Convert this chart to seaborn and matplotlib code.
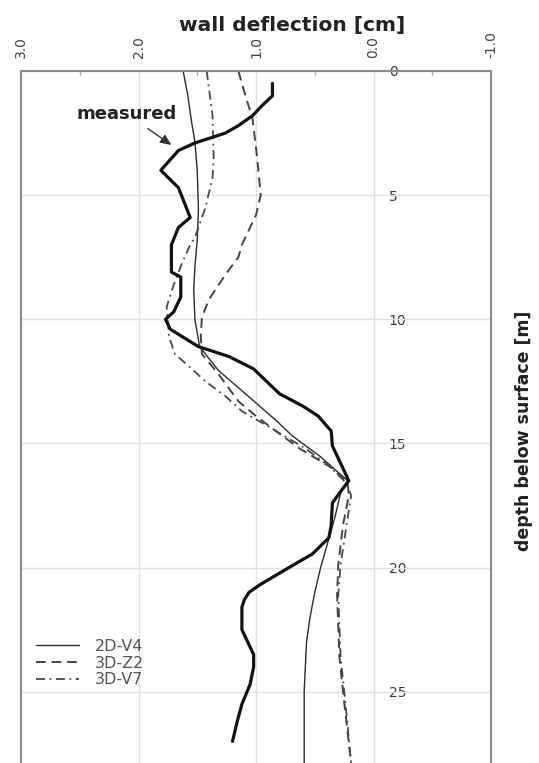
import matplotlib
matplotlib.use("Agg")
import matplotlib.pyplot as plt
import pandas as pd
import seaborn as sns

# Wall deflection profiles: depth below surface [m] vs. deflection [cm]
measured_depth = [0.5, 1.0, 1.4, 1.8, 2.2, 2.5, 2.9, 3.2, 4.0, 4.7, 5.9, 6.3, 7.0,
                  7.5, 8.1, 8.3, 9.1, 9.7, 10.0, 10.4, 11.1, 11.5, 12.0, 13.0, 13.5,
                  13.9, 14.5, 15.1, 16.5, 17.0, 17.4, 18.3, 18.8, 19.45, 20.0, 20.7,
                  21.0, 21.3, 21.6, 22.5, 23.5, 24.0, 24.7, 25.5, 26.2, 27.0]
measured_defl = [0.86, 0.86, 0.95, 1.03, 1.15, 1.26, 1.52, 1.66, 1.81, 1.66, 1.56, 1.66, 1.72,
                 1.72, 1.72, 1.64, 1.64, 1.70, 1.77, 1.73, 1.49, 1.23, 1.02, 0.80, 0.60,
                 0.47, 0.36, 0.35, 0.21, 0.29, 0.35, 0.36, 0.38, 0.52, 0.72, 0.97,
                 1.06, 1.10, 1.12, 1.12, 1.02, 1.02, 1.05, 1.12, 1.16, 1.20]

v4_depth = [0.0, 1.0, 2.0, 2.85, 4.0, 5.6, 6.8, 7.9, 8.8, 10.0, 11.1, 12.06, 13.0, 14.07,
            14.7, 15.5, 16.5, 17.0, 18.0, 19.0, 20.0, 21.0, 22.0, 23.0, 24.0, 25.0, 27.9]
v4_defl = [1.62, 1.58, 1.55, 1.52, 1.50, 1.49, 1.50, 1.52, 1.53, 1.52, 1.48, 1.32, 1.09, 0.83,
           0.69, 0.46, 0.22, 0.28, 0.33, 0.39, 0.45, 0.50, 0.54, 0.57, 0.58, 0.59, 0.59]

z2_depth = [0.0, 1.0, 1.9, 3.5, 5.0, 5.8, 7.0, 7.5, 8.2, 9.2, 9.9, 10.7, 11.4, 12.2, 13.3,
            13.9, 14.4, 15.2, 16.0, 16.6, 17.1, 18.3, 19.9, 21.1, 23.6, 25.4, 27.9]
z2_defl = [1.15, 1.09, 1.03, 0.99, 0.96, 1.00, 1.12, 1.15, 1.26, 1.40, 1.46, 1.47, 1.46, 1.32, 1.15,
           1.00, 0.86, 0.63, 0.35, 0.22, 0.21, 0.26, 0.30, 0.31, 0.29, 0.25, 0.19]

v7_depth = [0.0, 1.8, 3.5, 4.3, 5.5, 6.7, 7.1, 7.75, 8.6, 9.5, 10.7, 11.4, 11.9, 12.5, 13.1,
            13.7, 14.5, 15.2, 15.9, 16.6, 17.1, 18.3, 19.9, 21.1, 23.6, 25.4, 27.9]
v7_defl = [1.42, 1.37, 1.36, 1.37, 1.43, 1.52, 1.57, 1.63, 1.70, 1.76, 1.74, 1.69, 1.57, 1.43, 1.26,
           1.12, 0.83, 0.58, 0.38, 0.23, 0.19, 0.23, 0.28, 0.30, 0.28, 0.24, 0.19]

series_names = ["2D-V4", "3D-Z2", "3D-V7"]
x_ticks = [3.0, 2.0, 1.0, 0.0, -1.0]
x_tick_labels = ["3.0", "2.0", "1.0", "0.0", "-1.0"]
x_minor_ticks = [2.5, 1.5, 0.5, -0.5]
depth_ticks = [0, 5, 10, 15, 20, 25]
depth_tick_labels = ["0", "5", "10", "15", "20", "25"]

sns.set_style("white")
plt.rcParams["font.family"] = ["DejaVu Sans"]

W, H = 539, 763
fig = plt.figure(figsize=(W / 100, H / 100), dpi=100)
ax = fig.add_axes([21 / W, 0.0, 470 / W, 692 / H])

frames = {
    "measured": pd.DataFrame({"deflection": measured_defl, "depth": measured_depth}),
    "2D-V4": pd.DataFrame({"deflection": v4_defl, "depth": v4_depth}),
    "3D-Z2": pd.DataFrame({"deflection": z2_defl, "depth": z2_depth}),
    "3D-V7": pd.DataFrame({"deflection": v7_defl, "depth": v7_depth}),
}
styles = {
    "2D-V4": dict(color="#2b2b2b", lw=1.0, linestyle="-"),
    "3D-Z2": dict(color="#444444", lw=1.4, linestyle=(0, (5, 3))),
    "3D-V7": dict(color="#4a4a4a", lw=1.3, linestyle=(0, (5, 2.5, 1, 2.5))),
}

for name in series_names:
    sns.lineplot(data=frames[name], x="deflection", y="depth", sort=False,
                 estimator=None, ax=ax, label=name, **styles[name])
sns.lineplot(data=frames["measured"], x="deflection", y="depth", sort=False,
             estimator=None, ax=ax, color="#111111", lw=2.3)

ax.set_xlim(3.0, -1.0)
ax.set_ylim(27.87, 0)

# top axis: deflection
ax.xaxis.tick_top()
ax.set_xticks(x_ticks)
ax.set_xticklabels(x_tick_labels, rotation=90, fontsize=10, color="#444444")
ax.set_xticks(x_minor_ticks, minor=True)
ax.tick_params(axis="x", which="major", length=0, pad=9)
ax.tick_params(axis="x", which="minor", length=3, direction="in", color="#aaaaaa", width=1)
ax.xaxis.set_label_position("top")
ax.set_xlabel("wall deflection [cm]", fontsize=14.5, fontweight="bold", color="#222222")
ax.xaxis.set_label_coords((292 - 21) / 470, (763 - 31) / 692)

ax.set_yticks(depth_ticks)
ax.tick_params(axis="y", which="both", length=0, labelleft=False, labelright=False)
ax.yaxis.set_label_position("right")
ax.set_ylabel("depth below surface [m]", fontsize=12.5, fontweight="bold", color="#222222")
ax.yaxis.set_label_coords((515 - 21) / 470, (763 - 431) / 692)

ax.grid(True, which="major", color="#e2e2e2", lw=1.0)
ax.set_axisbelow(True)
for side in ["left", "right", "top"]:
    ax.spines[side].set_color("#8c8c8c")
    ax.spines[side].set_linewidth(1.5)
ax.spines["bottom"].set_visible(False)

# depth labels placed inside the frame, right of the zero line
sec = ax.secondary_yaxis((386 - 21) / 470)
sec.set_yticks(depth_ticks)
sec.set_yticklabels(depth_tick_labels, fontsize=10, color="#3a3a3a")
sec.tick_params(axis="y", length=0, pad=2)
sec.spines["right"].set_visible(False)
sec.spines["left"].set_visible(False)

ax.annotate("measured", xy=(1.72, 2.98), xytext=(2.10, 1.73),
            fontsize=13, fontweight="bold", color="#222222", ha="center", va="center",
            arrowprops=dict(arrowstyle="-|>,head_length=0.5,head_width=0.22",
                            color="#333333", lw=1.0, shrinkA=3, shrinkB=0))

handles = [ln for ln in ax.get_lines() if ln.get_label() in series_names]
leg = ax.legend(handles=handles, labels=series_names, loc="upper left",
                bbox_to_anchor=((36 - 21) / 470, (763 - 639) / 692),
                frameon=False, fontsize=11.5, labelspacing=0.1, handlelength=2.7,
                handletextpad=1.0, borderpad=0, borderaxespad=0)
for t in leg.get_texts():
    t.set_color("#555555")

fig.savefig("out.png", dpi=100)
